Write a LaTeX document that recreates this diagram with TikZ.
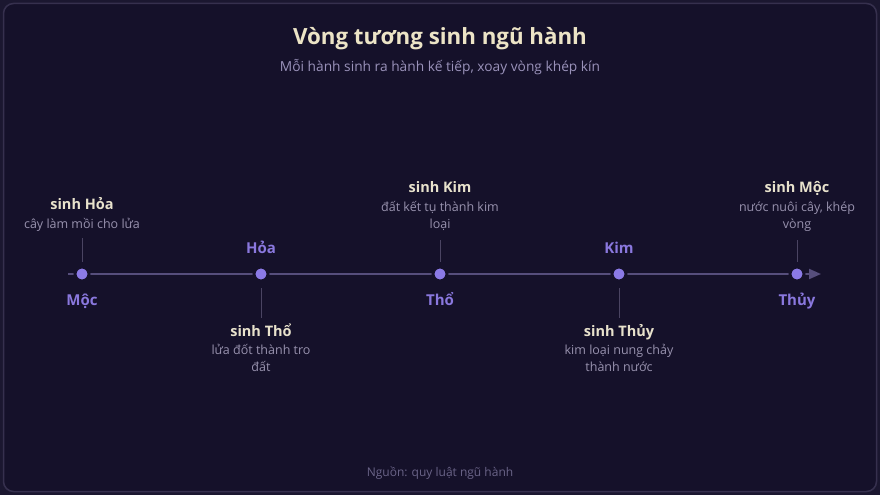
\documentclass[tikz,border=0pt]{standalone}
\usepackage{fontspec}
\setmainfont{Open Sans}
\usetikzlibrary{arrows.meta}
\definecolor{outerbg}{HTML}{1B1730}
\definecolor{cardbg}{HTML}{15112A}
\definecolor{cardline}{HTML}{36304E}
\definecolor{axiscol}{HTML}{564E7C}
\definecolor{dotcol}{HTML}{8B7AE6}
\definecolor{tickcol}{HTML}{4A4462}
\definecolor{elemcol}{HTML}{8A78DE}
\definecolor{anncol}{HTML}{E8E2CC}
\definecolor{desccol}{HTML}{9892AE}
\definecolor{titlecol}{HTML}{ECE4C6}
\definecolor{subcol}{HTML}{9A92BA}
\definecolor{footcol}{HTML}{6A6488}
\tikzset{
  titletext/.style={anchor=base, text=titlecol, font=\fontsize{22.3}{26}\selectfont\bfseries, inner sep=0},
  subtext/.style={anchor=base, text=subcol, font=\fontsize{13.75}{16}\selectfont, inner sep=0},
  foottext/.style={anchor=base, text=footcol, font=\fontsize{12}{14}\selectfont, inner sep=0},
  elemtext/.style={anchor=base, text=elemcol, font=\fontsize{15}{18}\selectfont\bfseries, inner sep=0},
  anntext/.style={anchor=base, text=anncol, font=\fontsize{14.5}{17}\selectfont\bfseries, inner sep=0},
  desctext/.style={anchor=base, text=desccol, font=\fontsize{12.5}{16.7}\selectfont, inner sep=0, align=center},
  dotnode/.style={circle, fill=dotcol, draw=cardbg, line width=3pt, minimum size=14pt, inner sep=0},
  axisline/.style={draw=axiscol, line width=2pt, -{Triangle[length=12pt,width=10pt]}},
  tickline/.style={draw=tickcol, line width=1pt},
}
\begin{document}
\begin{tikzpicture}[x=1pt,y=-1pt]
\useasboundingbox (0,0) rectangle (880,495);
\fill[outerbg] (0,0) rectangle (880,495);
\draw[cardline, fill=cardbg, line width=1.5pt, rounded corners=10pt] (3.5,3.5) rectangle (876.5,491.5);
% title
\node[titletext] (title) at (440,45) {Vòng tương sinh ngũ hành};
\node[subtext] (sub) at (440,71) {Mỗi hành sinh ra hành kế tiếp, xoay vòng khép kín};
\node[foottext] (foot) at (440,476) {Nguồn: quy luật ngũ hành};
% axis
\coordinate (a0) at (68,274);
\coordinate (a1) at (821,274);
\draw[axisline] (a0) -- (a1);
% dots
\node[dotnode] (moc) at (82,274) {};
\node[dotnode] (hoa) at (261,274) {};
\node[dotnode] (tho) at (440,274) {};
\node[dotnode] (kim) at (619,274) {};
\node[dotnode] (thuy) at (797,274) {};
% element labels
\node[elemtext] (lmoc) at (82,305) {Mộc};
\node[elemtext] (lhoa) at (261,253) {Hỏa};
\node[elemtext] (ltho) at (440,305) {Thổ};
\node[elemtext] (lkim) at (619,253) {Kim};
\node[elemtext] (lthuy) at (797,305) {Thủy};
% annotations (multi-line nodes: base = last line)
\node[anntext] (amoc) at (82,209) {sinh Hỏa};
\node[desctext] (dmoc) at (82,228.5) {cây làm mồi cho lửa};
\node[anntext] (ahoa) at (261,336) {sinh Thổ};
\node[desctext] (dhoa) at (261,371.5) {lửa đốt thành tro\\đất};
\node[anntext] (atho) at (440,192.5) {sinh Kim};
\node[desctext] (dtho) at (440,228.4) {đất kết tụ thành kim\\loại};
\node[anntext] (akim) at (619,336) {sinh Thủy};
\node[desctext] (dkim) at (619,371.5) {kim loại nung chảy\\thành nước};
\node[anntext] (athuy) at (797,192.5) {sinh Mộc};
\node[desctext] (dthuy) at (797,228.4) {nước nuôi cây, khép\\vòng};
% ticks
\coordinate (tm1) at (82,238); \coordinate (tm2) at (82,262);
\coordinate (th1) at (261,288); \coordinate (th2) at (261,318);
\coordinate (tt1) at (440,240); \coordinate (tt2) at (440,262);
\coordinate (tk1) at (619,288); \coordinate (tk2) at (619,318);
\coordinate (tw1) at (797,240); \coordinate (tw2) at (797,262);
\draw[tickline] (tm1) -- (tm2);
\draw[tickline] (th1) -- (th2);
\draw[tickline] (tt1) -- (tt2);
\draw[tickline] (tk1) -- (tk2);
\draw[tickline] (tw1) -- (tw2);
\end{tikzpicture}
\end{document}
